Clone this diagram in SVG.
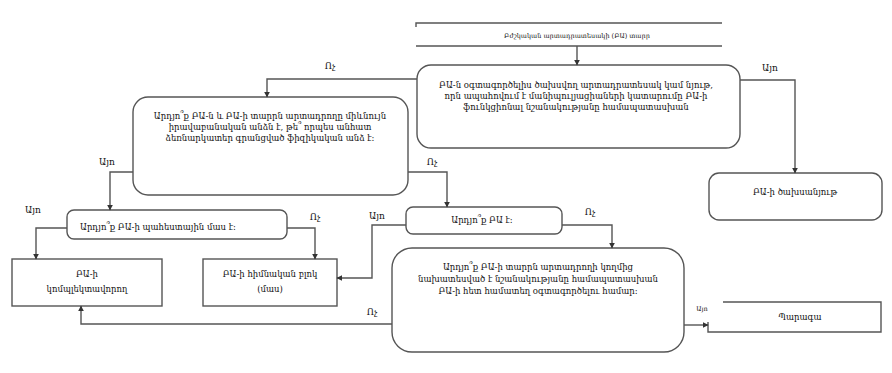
<svg xmlns="http://www.w3.org/2000/svg" width="892" height="373" viewBox="0 0 892 373">
<defs>
<marker id="ah" viewBox="0 0 10 10" refX="9" refY="5" markerWidth="6" markerHeight="6" orient="auto" markerUnits="userSpaceOnUse">
<path d="M0,0 L10,5 L0,10 z" fill="#333"/>
</marker>
<style>
.box{fill:#fff;stroke:#555;stroke-width:1.4}
.ln{fill:none;stroke:#555;stroke-width:1.4}
.t{font-family:"DejaVu Serif","Noto Serif",serif;font-size:8.5px;fill:#111;text-anchor:middle}
.lbl{font-family:"DejaVu Serif",serif;font-size:9px;fill:#111;text-anchor:middle}
.c{fill:none;stroke:#555;stroke-width:1.4;marker-end:url(#ah)}
</style>
</defs>
<rect width="892" height="373" fill="#fff"/>
<g id="top">
<path class="ln" d="M416,27 V23 H722 M416,46 H722"/>
<text class="t" x="577" y="38" style="font-size:6.5px">Բժշկական արտադրատեսակի (ԲԱ) տարր</text>
</g>
<g id="q-consumable">
<rect class="box" x="417" y="65" width="323" height="83" rx="14"/>
<text class="t" x="576" y="88">ԲԱ-ն օգտագործելիս ծախսվող արտադրատեսակ կամ նյութ,</text>
<text class="t" x="576" y="99">որն ապահովում է մանիպուլյացիաների կատարումը  ԲԱ-ի</text>
<text class="t" x="576" y="110">ֆունկցիոնալ նշանակությանը համապատասխան</text>
</g>
<g id="consumable">
<rect class="box" x="709" y="173" width="173" height="47" rx="10"/>
<text class="t" x="795" y="195">ԲԱ-ի ծախսանյութ</text>
</g>
<g id="q-manufacturer">
<rect class="box" x="133" y="97" width="275" height="98" rx="15"/>
<text class="t" x="270" y="119">Արդյո՞ք ԲԱ-ն և ԲԱ-ի տարրն արտադրողը միևնույն</text>
<text class="t" x="270" y="130">իրավաբանական անձն է, թե՞ որպես անհատ</text>
<text class="t" x="270" y="141">ձեռնարկատեր գրանցված ֆիզիկական անձ է:</text>
</g>
<g id="q-spare">
<rect class="box" x="67" y="210" width="220" height="29" rx="7"/>
<text class="t" x="80" y="230" style="text-anchor:start">Արդյո՞ք ԲԱ-ի պահեստային մաս է:</text>
</g>
<g id="component">
<rect class="box" x="12" y="259" width="150" height="47" rx="0"/>
<text class="t" x="87" y="277">ԲԱ-ի</text>
<text class="t" x="87" y="292">կոմպլեկտավորող</text>
</g>
<g id="main-block">
<rect class="box" x="203" y="259" width="134" height="47" rx="0"/>
<text class="t" x="270" y="277">ԲԱ-ի հիմնական բլոկ</text>
<text class="t" x="270" y="292">(մաս)</text>
</g>
<g id="q-device">
<rect class="box" x="406" y="207" width="156" height="27" rx="7"/>
<text class="t" x="482" y="223">Արդյո՞ք ԲԱ է:</text>
</g>
<g id="q-joint">
<rect class="box" x="392" y="248" width="292" height="104" rx="20"/>
<text class="t" x="538" y="270">Արդյո՞ք ԲԱ-ի տարրն արտադրողի կողմից</text>
<text class="t" x="538" y="282">նախատեսված է նշանակությանը համապատասխան</text>
<text class="t" x="538" y="294">ԲԱ-ի հետ համատեղ օգտագործելու համար:</text>
</g>
<g id="accessory">
<path class="ln" d="M723,302 H881 V332 H708 V322"/>
<text class="t" x="800" y="320">Պարագա</text>
</g>
<g id="connectors">
<path class="c" d="M577,46 V65"/>
<path class="c" d="M417,79 H267 V97"/>
<path class="c" d="M740,80 H795 V173"/>
<path class="c" d="M133,172 H110 V210"/>
<path class="c" d="M408,172 H447 V207"/>
<path class="c" d="M67,228 H36 V259"/>
<path class="c" d="M287,228 H315 V259"/>
<path class="c" d="M406,225 H372 V278 H337"/>
<path class="c" d="M562,225 H612 V248"/>
<path class="c" d="M392,324 H81 V306"/>
<path class="c" d="M684,325 H708"/>
<text class="lbl" x="330" y="69">Ոչ</text>
<text class="lbl" x="770" y="71">Այո</text>
<text class="lbl" x="107" y="165">Այո</text>
<text class="lbl" x="432" y="165">Ոչ</text>
<text class="lbl" x="33" y="213">Այո</text>
<text class="lbl" x="315" y="220">Ոչ</text>
<text class="lbl" x="377" y="219">Այո</text>
<text class="lbl" x="590" y="215">Ոչ</text>
<text class="lbl" x="372" y="315">Ոչ</text>
<text class="lbl" x="702" y="311" style="font-size:6.5px">Այո</text>
</g>
</svg>
